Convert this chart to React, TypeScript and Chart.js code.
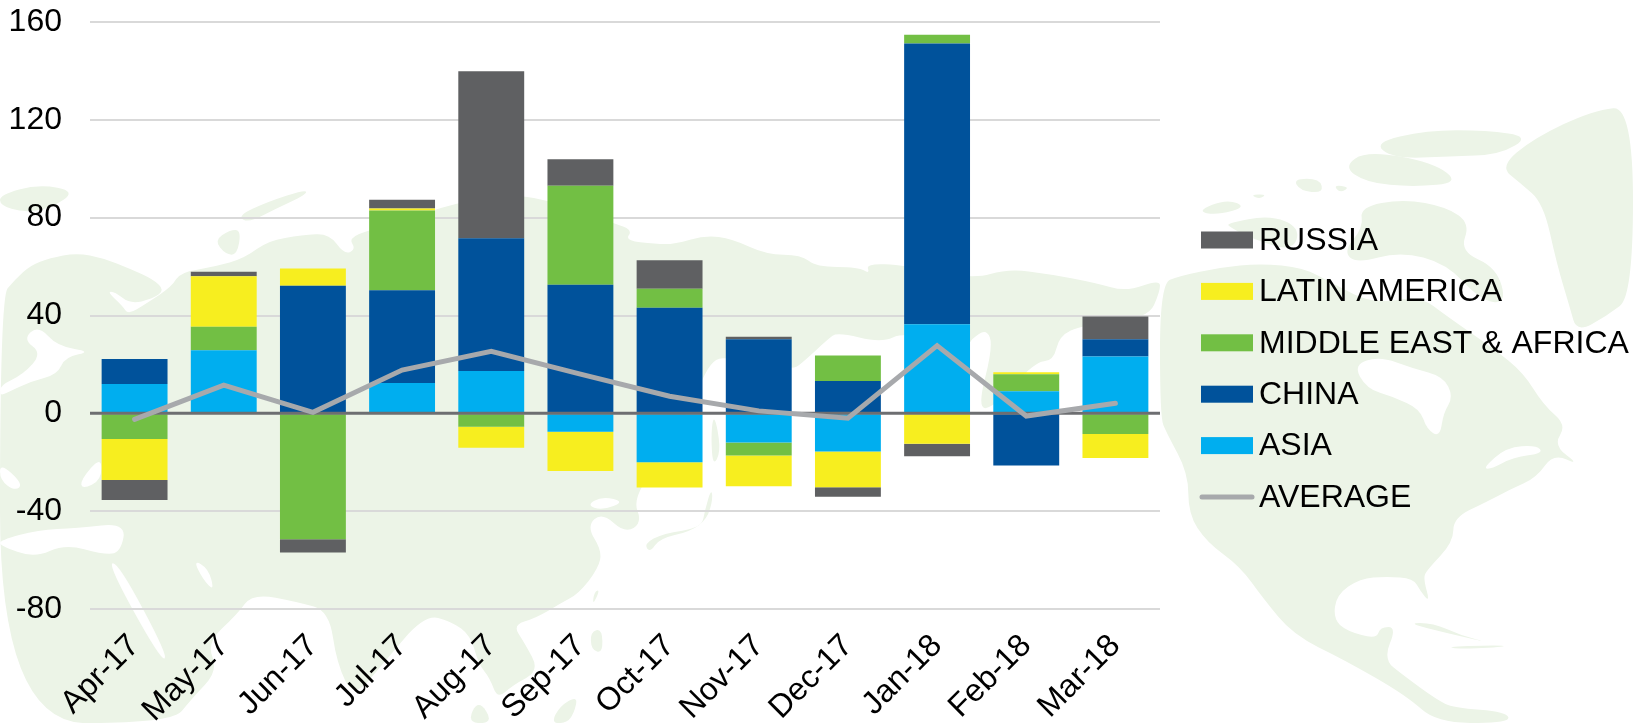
import React, { useEffect, useRef } from "react";
import { Chart, registerables } from "chart.js";

Chart.register(...registerables);

const categories = ["Apr-17","May-17","Jun-17","Jul-17","Aug-17","Sep-17","Oct-17","Nov-17","Dec-17","Jan-18","Feb-18","Mar-18"];
const asia = [12, 25.8, 0, 12.4, 17.3, -7.5, -20, -11.9, -15.6, 36.4, 9, 23.2];
const china = [10.2, 0, 52.2, 37.9, 54.3, 52.6, 43.2, 30.3, 13.2, 114.8, -21.3, 7.1];
const middleEastAfrica = [-10.5, 9.6, -51.5, 32.6, -5.5, 40.5, 7.7, -5.3, 10.4, 3.6, 7, -8.5];
const latinAmerica = [-16.8, 20.6, 7, 0.8, -8.6, -16.1, -10.3, -12.6, -14.6, -12.4, 0.8, -9.8];
const russia = [-8.1, 1.9, -5.4, 3.6, 68.3, 10.8, 11.7, 1, -3.9, -5.1, 0, 9.3];
const average = [-2.5, 11.5, 0.4, 17.7, 25.4, 16, 7, 1, -2, 27.7, -1.1, 4.1];
const yTicks = [-80, -40, 0, 40, 80, 120, 160];

const FONT = "'Liberation Sans', Arial, sans-serif";
const MAP_COLOR = "#ecf4e7";

// Decorative backdrop outlines, traced at two working scales
const eurasiaLand: number[][][] = [
  [[0,360],[40,310],[80,270],[130,250],[200,235],[270,250],[340,280],[400,310],[430,340],[400,365],[340,380],[300,345],[280,345],[320,385],[335,410],[380,380],[450,330],[470,290],[560,275],[640,250],[700,200],[790,185],[860,180],[900,240],[930,225],[910,190],[1000,160],[1200,90],[1370,62],
   [1603,150],[1653,170],[1633,200],[1713,210],[1763,210],[1843,185],[1913,195],[2003,240],[2093,240],[2133,275],[2243,275],[2273,295],[2263,265],[2363,270],[2543,310],[2633,280],[2743,295],[2863,320],[2943,345],[3031,310],[3031,345],[3000,420],[2828,440],[2768,470],[2753,540],[2703,545],[2600,670],[2553,680],[2595,500],[2578,450],[2538,480],[2533,495],[2363,460],[2303,490],[2188,460],[2163,480],[2103,540],[2068,570],[1896,530],[1863,540],[1836,590],[1743,800],[1653,930],[1678,1000],[1633,1030],[1573,970],[1533,1010],[1573,1080],[1563,1130],[1513,1200],[1463,1230],
   [1400,1270],[1340,1290],[1370,1340],[1410,1420],[1340,1460],[1300,1500],[1280,1440],[1250,1400],[1230,1320],[1180,1280],[1110,1260],[1000,1400],[925,1497],[880,1400],[860,1250],[780,1225],[660,1200],[620,1260],[540,1340],[570,1420],[500,1500],[450,1568],[0,1568]],
  [[0,70],[100,40],[200,60],[130,110],[60,120],[0,100]],
  [[620,130],[700,90],[800,55],[800,70],[720,110],[650,150]],
  [[560,200],[600,170],[630,170],[620,240],[590,240]],
  [[1863,700],[1873,720],[1883,800],[1863,840],[1858,760]],
  [[1858,905],[1843,960],[1833,1015],[1733,1030],[1683,1060],[1698,1085],[1723,1045],[1803,1025],[1848,990],[1863,930]],
  [[1553,1195],[1568,1190],[1548,1235]],
  [[1543,1310],[1573,1300],[1575,1370],[1545,1360]],
  [[1463,1520],[1510,1490],[1500,1540],[1480,1568],[1440,1568]],
  [[1250,1500],[1290,1568],[1220,1568]],
];
const eurasiaWater: number[][][] = [
  [[60,480],[100,440],[150,500],[240,515],[170,530],[150,580],[80,600],[20,630],[0,640],[0,610],[60,580],[110,520]],
  [[265,810],[210,880],[215,905],[265,880]],
  [[0,830],[60,890],[40,910],[0,880]],
  [[0,1050],[100,1020],[200,1015],[330,1000],[315,1085],[270,1090],[170,1060],[90,1100],[0,1065]],
  [[280,1115],[310,1115],[440,1380],[420,1390]],
  [[505,1105],[545,1130],[560,1195],[530,1160]],
  [[1533,950],[1573,925],[1633,940],[1573,965]],
];
const americaLand: number[][][] = [
  [[0,480],[60,460],[180,440],[300,430],[430,440],[520,480],[640,530],[780,510],[860,560],[1000,640],[1090,700],[1150,780],[1220,830],[1180,880],[1260,930],[1180,900],[1130,960],[1050,990],[980,1020],[880,1060],[880,1120],[800,1190],[790,1210],[810,1270],[780,1240],[760,1210],[680,1205],[600,1210],[530,1250],[520,1310],[560,1340],[650,1360],[660,1330],[710,1330],[670,1410],[730,1450],[830,1510],[880,1530],[1040,1540],[1050,1568],[830,1568],[740,1500],[550,1410],[400,1350],[310,1260],[240,1180],[140,1120],[85,1050],[85,950],[20,850],[0,810]],
  [[640,130],[800,100],[980,100],[1110,115],[1020,160],[870,165],[700,170]],
  [[550,190],[620,150],[820,180],[900,230],[760,240],[620,230]],
  [[400,220],[480,220],[490,255],[420,250]],
  [[520,235],[570,240],[540,255]],
  [[270,260],[320,258],[300,270]],
  [[110,300],[200,270],[260,290],[170,310]],
  [[200,330],[330,310],[420,340],[400,400],[280,370],[210,340]],
  [[600,290],[730,270],[860,290],[930,330],[900,400],[1010,440],[1040,530],[960,520],[860,430],[720,400],[590,430],[550,400],[610,340]],
  [[1020,190],[1120,120],[1300,50],[1419,40],[1419,510],[1340,560],[1250,600],[1230,540],[1190,430],[1150,280],[1080,230]],
  [[740,1320],[820,1320],[900,1350],[990,1370],[860,1345]],
  [[850,1380],[1000,1375],[1050,1378],[920,1385]],
];
const americaWater: number[][][] = [
  [[580,680],[660,660],[760,690],[850,710],[880,760],[850,800],[840,860],[800,840],[780,790],[700,760],[620,740]],
  [[970,935],[1040,885],[1130,880],[1150,900],[1060,910],[990,940]],
  [[240,1185],[290,1240],[330,1310],[310,1300],[260,1240]],
];

function trace(ctx: CanvasRenderingContext2D, pts: number[][], ox: number, oy: number, sx: number, sy: number) {
  const p = pts.map(([x, y]) => [ox + x / sx, oy + y / sy]);
  ctx.beginPath();
  p.forEach(([x, y], i) => {
    const [nx, ny] = p[(i + 1) % p.length];
    if (i === 0) ctx.moveTo((x + p[p.length - 1][0]) / 2, (y + p[p.length - 1][1]) / 2);
    ctx.quadraticCurveTo(x, y, (x + nx) / 2, (y + ny) / 2);
  });
  ctx.closePath();
  ctx.fill();
}

const mapBackdrop = {
  id: "mapBackdrop",
  beforeDraw(chart: any) {
    const { ctx } = chart;
    ctx.save();
    const e = (s: number[][]) => trace(ctx, s, 0, 170, 2.613, 2.835);
    const a = (s: number[][]) => trace(ctx, s, 1160, 90, 3, 2.477);
    ctx.fillStyle = MAP_COLOR;
    eurasiaLand.forEach(e);
    americaLand.forEach(a);
    ctx.fillStyle = "#ffffff";
    eurasiaWater.forEach(e);
    americaWater.forEach(a);
    ctx.restore();
  },
};

const zeroLine = {
  id: "zeroLine",
  beforeDatasetDraw(chart: any, args: any) {
    if (args.meta.type !== "line") return;
    const { ctx, chartArea, scales } = chart;
    const y = scales.y.getPixelForValue(0);
    ctx.save();
    ctx.strokeStyle = "#6d6e71";
    ctx.lineWidth = 3;
    ctx.beginPath();
    ctx.moveTo(chartArea.left, y);
    ctx.lineTo(chartArea.right, y);
    ctx.stroke();
    ctx.restore();
  },
};

const sideLegend = {
  id: "sideLegend",
  afterDraw(chart: any) {
    const { ctx } = chart;
    const ds = chart.data.datasets;
    const bars = ds.filter((d: any) => d.type === "bar").reverse();
    const lines = ds.filter((d: any) => d.type === "line");
    const items = [...bars, ...lines];
    const x0 = 1201, boxW = 52, boxH = 17, textX = 1259, top = 240, step = 51.4;
    ctx.save();
    ctx.font = `32px ${FONT}`;
    ctx.textBaseline = "middle";
    ctx.textAlign = "left";
    items.forEach((d: any, i: number) => {
      const y = top + i * step;
      if (d.type === "bar") {
        ctx.fillStyle = d.backgroundColor;
        ctx.fillRect(x0, y - boxH / 2, boxW, boxH);
      } else {
        ctx.strokeStyle = d.borderColor;
        ctx.lineWidth = d.borderWidth;
        ctx.lineCap = "round";
        ctx.beginPath();
        ctx.moveTo(x0 + 1, y);
        ctx.lineTo(x0 + boxW - 1, y);
        ctx.stroke();
      }
      ctx.fillStyle = "#000000";
      ctx.fillText(d.label, textX, y + 1);
    });
    ctx.restore();
  },
};

export default function App() {
  const ref = useRef<HTMLCanvasElement>(null);
  useEffect(() => {
    document.body.style.margin = "0";
    document.body.style.background = "#ffffff";
    const bar = (label: string, data: number[], color: string) => ({
      type: "bar" as const, label, data, backgroundColor: color, stack: "s", order: 1,
      categoryPercentage: 1, barPercentage: 0.739, borderWidth: 0,
    });
    const chart = new Chart(ref.current!, {
      data: {
        labels: categories,
        datasets: [
          bar("ASIA", asia, "#00aeef"),
          bar("CHINA", china, "#00529b"),
          bar("MIDDLE EAST & AFRICA", middleEastAfrica, "#72bf44"),
          bar("LATIN AMERICA", latinAmerica, "#f7ee1f"),
          bar("RUSSIA", russia, "#5f6062"),
          {
            type: "line" as const, label: "AVERAGE", data: average, borderColor: "#a7a9ac",
            borderWidth: 5, pointRadius: 0, tension: 0, order: 0, borderCapStyle: "round", borderJoinStyle: "miter",
          },
        ],
      } as any,
      options: {
        responsive: false,
        animation: false,
        layout: { padding: { left: 0, top: 22, right: 473, bottom: 0 } },
        plugins: { legend: { display: false }, tooltip: { enabled: false } },
        scales: {
          x: {
            stacked: true,
            grid: { display: false, drawTicks: false },
            border: { display: false },
            afterFit(s: any) { s.height = 114; s.paddingLeft = 0; s.paddingRight = 0; },
            ticks: { color: "#000", font: { family: FONT, size: 32 }, minRotation: 45, maxRotation: 45, padding: 18, autoSkip: false },
          },
          y: {
            stacked: true,
            min: -80,
            max: 160,
            afterBuildTicks(s: any) { s.ticks = yTicks.map((value) => ({ value })); },
            afterFit(s: any) { s.width = 90; s.paddingTop = 0; s.paddingBottom = 0; },
            grid: { color: "#d9d9d9", lineWidth: 2, drawTicks: false },
            border: { display: false },
            ticks: { color: "#000", font: { family: FONT, size: 32 }, padding: 28 },
          },
        },
      },
      plugins: [mapBackdrop, zeroLine, sideLegend],
    } as any);
    return () => chart.destroy();
  }, []);
  return <canvas ref={ref} width={1633} height={723} style={{ display: "block" }} />;
}
